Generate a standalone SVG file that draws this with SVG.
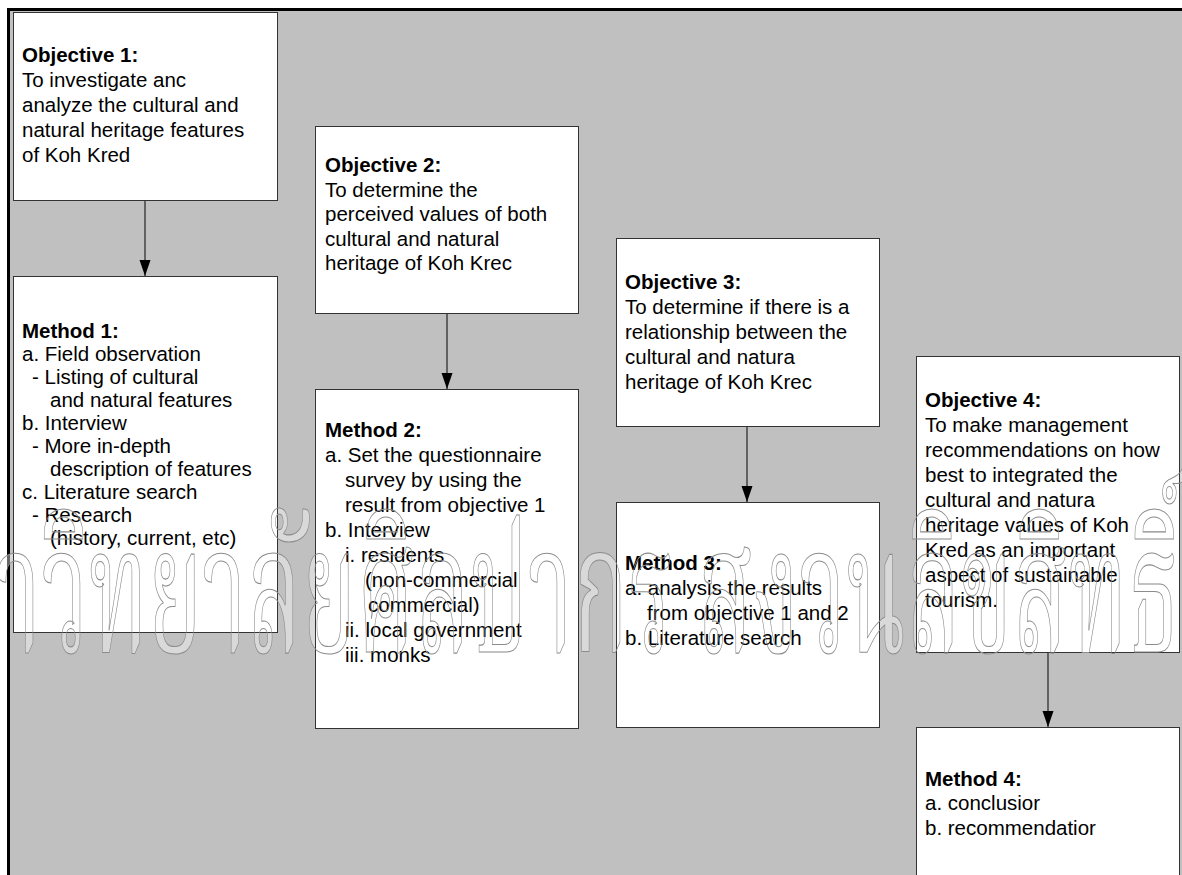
<svg xmlns="http://www.w3.org/2000/svg" xmlns:xlink="http://www.w3.org/1999/xlink" width="1182" height="875" viewBox="0 0 1182 875">
  <style>
    .box { fill: #ffffff; stroke: #333333; stroke-width: 1; }
    .t { font-family: "Liberation Sans", Arial, sans-serif; font-size: 20.5px; fill: #000000; }
    .h { font-weight: bold; }
    .edge { stroke: #222222; stroke-width: 1.2; fill: none; }
    .wm-fill { fill: #ffffff; fill-opacity: 0.4; stroke: none; }
    .wm-line { fill: none; stroke: #8c8c8c; stroke-width: 1.1; }
  </style>
  <defs>
    <!-- filled arrowhead, tip sits on the end point of the connector -->
    <marker id="arrow" markerUnits="userSpaceOnUse" markerWidth="17" markerHeight="12" refX="16" refY="6" orient="auto" viewBox="0 0 17 12">
      <path d="M0,0.5 L16,6 L0,11.5 Z" fill="#000000"/>
    </marker>
    <text id="wm" x="-120" y="652" font-family="'Noto Serif Thai', 'Noto Sans Thai Looped', 'Loma', 'Garuda', 'Norasi', 'Kinnari', 'Noto Sans Thai', sans-serif" font-size="178" textLength="1300" lengthAdjust="spacingAndGlyphs">มหาวิทยาลัยศิลปากร สงวนลิขสิทธิ์</text>
  </defs>

  <!-- page and grey drawing area -->
  <rect x="0" y="0" width="1182" height="875" fill="#ffffff"/>
  <rect x="8.5" y="9.5" width="1200" height="900" fill="#c0c0c0" stroke="#000000" stroke-width="3"/>

  <!-- watermark fill layer -->
  <use xlink:href="#wm" class="wm-fill"/>

  <!-- connectors -->
  <g id="connectors">
    <line class="edge" x1="145" y1="200" x2="145" y2="276" marker-end="url(#arrow)"/>
    <line class="edge" x1="447" y1="313" x2="447" y2="389" marker-end="url(#arrow)"/>
    <line class="edge" x1="747" y1="426" x2="747" y2="502" marker-end="url(#arrow)"/>
    <line class="edge" x1="1048" y1="652" x2="1048" y2="727" marker-end="url(#arrow)"/>
  </g>

  <!-- Objective 1 -->
  <g id="objective1">
    <rect class="box" x="13.5" y="12.5" width="264" height="188"/>
    <text class="t h" x="22" y="62">Objective 1:</text>
    <text class="t" x="22" y="87">To investigate anc</text>
    <text class="t" x="22" y="112">analyze the cultural and</text>
    <text class="t" x="22" y="137">natural heritage features</text>
    <text class="t" x="22" y="162">of Koh Kred</text>
  </g>

  <!-- Method 1 -->
  <g id="method1">
    <rect class="box" x="13.5" y="276.5" width="264" height="356"/>
    <text class="t h" x="22" y="338">Method 1:</text>
    <text class="t" x="22" y="361">a. Field observation</text>
    <text class="t" x="32" y="384">- Listing of cultural</text>
    <text class="t" x="50" y="407">and natural features</text>
    <text class="t" x="22" y="430">b. Interview</text>
    <text class="t" x="32" y="453">- More in-depth</text>
    <text class="t" x="50" y="476">description of features</text>
    <text class="t" x="22" y="499">c. Literature search</text>
    <text class="t" x="32" y="522">- Research</text>
    <text class="t" x="50" y="545">(history, current, etc)</text>
  </g>

  <!-- Objective 2 -->
  <g id="objective2">
    <rect class="box" x="315.5" y="126.5" width="263" height="187"/>
    <text class="t h" x="325" y="172">Objective 2:</text>
    <text class="t" x="325" y="196.5">To determine the</text>
    <text class="t" x="325" y="221">perceived values of both</text>
    <text class="t" x="325" y="245.5">cultural and natural</text>
    <text class="t" x="325" y="270">heritage of Koh Krec</text>
  </g>

  <!-- Method 2 -->
  <g id="method2">
    <rect class="box" x="315.5" y="389.5" width="263" height="339"/>
    <text class="t h" x="325" y="437">Method 2:</text>
    <text class="t" x="325" y="462">a. Set the questionnaire</text>
    <text class="t" x="345" y="487">survey by using the</text>
    <text class="t" x="345" y="512">result from objective 1</text>
    <text class="t" x="325" y="537">b. Interview</text>
    <text class="t" x="345" y="562">i. residents</text>
    <text class="t" x="365" y="587">(non-commercial</text>
    <text class="t" x="368" y="612">commercial)</text>
    <text class="t" x="345" y="637">ii. local government</text>
    <text class="t" x="345" y="662">iii. monks</text>
  </g>

  <!-- Objective 3 -->
  <g id="objective3">
    <rect class="box" x="616.5" y="238.5" width="263" height="188"/>
    <text class="t h" x="625" y="289">Objective 3:</text>
    <text class="t" x="625" y="314">To determine if there is a</text>
    <text class="t" x="625" y="339">relationship between the</text>
    <text class="t" x="625" y="364">cultural and natura</text>
    <text class="t" x="625" y="389">heritage of Koh Krec</text>
  </g>

  <!-- Method 3 -->
  <g id="method3">
    <rect class="box" x="616.5" y="502.5" width="263" height="225"/>
    <text class="t h" x="625" y="570">Method 3:</text>
    <text class="t" x="625" y="595">a. analysis the results</text>
    <text class="t" x="647" y="620">from objective 1 and 2</text>
    <text class="t" x="625" y="645">b. Literature search</text>
  </g>

  <!-- Objective 4 -->
  <g id="objective4">
    <rect class="box" x="916.5" y="356.5" width="263" height="296"/>
    <text class="t h" x="925" y="407">Objective 4:</text>
    <text class="t" x="925" y="432">To make management</text>
    <text class="t" x="925" y="457">recommendations on how</text>
    <text class="t" x="925" y="482">best to integrated the</text>
    <text class="t" x="925" y="507">cultural and natura</text>
    <text class="t" x="925" y="532">heritage values of Koh</text>
    <text class="t" x="925" y="557">Kred as an important</text>
    <text class="t" x="925" y="582">aspect of sustainable</text>
    <text class="t" x="925" y="607">tourism.</text>
  </g>

  <!-- Method 4 -->
  <g id="method4">
    <rect class="box" x="916.5" y="727.5" width="263" height="170"/>
    <text class="t h" x="925" y="785.5">Method 4:</text>
    <text class="t" x="925" y="809.5">a. conclusior</text>
    <text class="t" x="925" y="834.5">b. recommendatior</text>
  </g>

  <!-- watermark outline layer -->
  <use xlink:href="#wm" class="wm-line"/>
</svg>
